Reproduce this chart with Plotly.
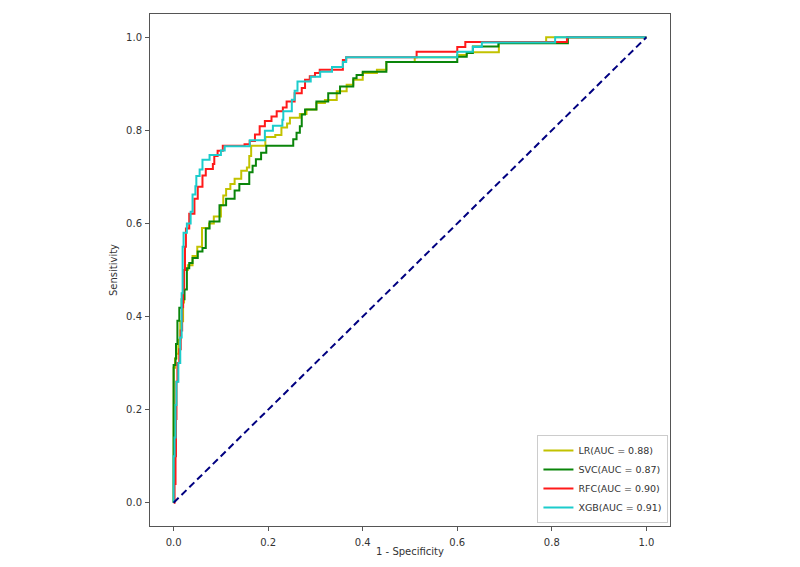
import plotly.graph_objects as go

# ---- data ----
lr_fpr = [0, 0, 0.003, 0.006, 0.010, 0.014, 0.020, 0.022, 0.030, 0.040, 0.050, 0.060, 0.075, 0.085,
          0.100, 0.105, 0.111, 0.120, 0.129, 0.143, 0.155, 0.160, 0.164, 0.194, 0.215, 0.228, 0.240,
          0.246, 0.267, 0.281, 0.302, 0.320, 0.345, 0.366, 0.380, 0.400, 0.430, 0.450, 0.510, 0.600,
          0.620, 0.688, 0.788, 1.0]
lr_tpr = [0, 0.29, 0.31, 0.32, 0.35, 0.39, 0.43, 0.50, 0.51, 0.53, 0.55, 0.59, 0.60, 0.615,
          0.639, 0.66, 0.674, 0.685, 0.696, 0.713, 0.72, 0.745, 0.767, 0.786, 0.79, 0.806, 0.815,
          0.827, 0.835, 0.845, 0.859, 0.865, 0.884, 0.898, 0.909, 0.923, 0.93, 0.947, 0.957, 0.962,
          0.968, 0.99, 1.0, 1.0]

svc_fpr = [0, 0, 0.004, 0.005, 0.008, 0.012, 0.017, 0.023, 0.028, 0.033, 0.040, 0.051, 0.061,
           0.068, 0.076, 0.097, 0.111, 0.129, 0.139, 0.160, 0.167, 0.174, 0.185, 0.196, 0.253,
           0.260, 0.267, 0.271, 0.278, 0.302, 0.327, 0.352, 0.380, 0.387, 0.400, 0.450, 0.600,
           0.620, 0.633, 0.687, 0.834, 1.0]
svc_tpr = [0, 0.296, 0.31, 0.341, 0.391, 0.419, 0.437, 0.458, 0.504, 0.515, 0.526, 0.54, 0.547,
           0.589, 0.604, 0.639, 0.653, 0.671, 0.685, 0.71, 0.724, 0.738, 0.752, 0.767, 0.781,
           0.795, 0.809, 0.834, 0.845, 0.862, 0.88, 0.894, 0.912, 0.919, 0.926, 0.947, 0.958,
           0.966, 0.98, 0.987, 1.0, 1.0]

rfc_fpr = [0, 0.002, 0.004, 0.005, 0.006, 0.008, 0.012, 0.015, 0.018, 0.020, 0.022, 0.024, 0.026,
           0.033, 0.044, 0.051, 0.061, 0.068, 0.083, 0.086, 0.093, 0.104, 0.150, 0.161, 0.172,
           0.182, 0.193, 0.207, 0.218, 0.231, 0.239, 0.256, 0.271, 0.278, 0.288, 0.299, 0.309,
           0.358, 0.365, 0.514, 0.600, 0.617, 0.832, 1.0]
rfc_tpr = [0, 0.04, 0.10, 0.18, 0.26, 0.30, 0.33, 0.37, 0.42, 0.46, 0.50, 0.55, 0.589,
           0.621, 0.653, 0.679, 0.703, 0.717, 0.728, 0.745, 0.756, 0.767, 0.770, 0.777, 0.791,
           0.809, 0.820, 0.830, 0.841, 0.849, 0.862, 0.880, 0.891, 0.909, 0.916, 0.923, 0.930,
           0.951, 0.957, 0.969, 0.979, 0.990, 1.0, 1.0]

xgb_fpr = [0, 0, 0.002, 0.004, 0.006, 0.010, 0.014, 0.017, 0.019, 0.021, 0.028, 0.036, 0.040,
           0.046, 0.048, 0.055, 0.061, 0.076, 0.100, 0.108, 0.161, 0.193, 0.210, 0.230, 0.232,
           0.250, 0.256, 0.262, 0.290, 0.310, 0.335, 0.358, 0.365, 0.600, 0.633, 0.652, 0.807, 1.0]
xgb_tpr = [0, 0.10, 0.14, 0.21, 0.26, 0.30, 0.355, 0.45, 0.55, 0.58, 0.60, 0.625, 0.662,
           0.68, 0.702, 0.716, 0.737, 0.747, 0.757, 0.766, 0.779, 0.799, 0.810, 0.823, 0.841,
           0.866, 0.885, 0.905, 0.915, 0.926, 0.936, 0.947, 0.957, 0.969, 0.979, 0.989, 1.0, 1.0]

names = ["LR(AUC = 0.88)", "SVC(AUC = 0.87)", "RFC(AUC = 0.90)", "XGB(AUC = 0.91)"]
colors = ["#c2c200", "#0a850a", "#ff1a1a", "#1ccccc"]
diag = [0, 1]
ticks = [0.0, 0.2, 0.4, 0.6, 0.8, 1.0]

fig = go.Figure()
for fx, ty, nm, col in zip([lr_fpr, svc_fpr, rfc_fpr, xgb_fpr],
                           [lr_tpr, svc_tpr, rfc_tpr, xgb_tpr], names, colors):
    fig.add_trace(go.Scatter(x=fx, y=ty, mode="lines", name=nm,
                             line=dict(color=col, width=2, shape="hv")))
fig.add_trace(go.Scatter(x=diag, y=diag, mode="lines", showlegend=False,
                         line=dict(color="#000080", width=2, dash="7px,4px")))

axis_common = dict(range=[-0.05, 1.05], tickvals=ticks, tickformat=".1f",
                   showgrid=False, zeroline=False, showline=True, mirror=True,
                   linecolor="#555", linewidth=1, ticks="outside", ticklen=4,
                   tickcolor="#555", tickfont=dict(size=10, color="#333"))

fig.update_layout(
    width=800, height=567,
    margin=dict(l=150, r=130, t=14, b=37),
    paper_bgcolor="white", plot_bgcolor="white",
    font=dict(family="DejaVu Sans", size=10, color="#333"),
    xaxis=dict(**axis_common, ticklabelstandoff=3,
               title=dict(text="1 - Specificity", standoff=0, font=dict(size=10))),
    yaxis=dict(**axis_common, ticklabelstandoff=1,
               title=dict(text="Sensitivity", standoff=6, font=dict(size=10))),
    legend=dict(x=0.997, y=0.006, xanchor="right", yanchor="bottom",
                bgcolor="rgba(255,255,255,0.9)", bordercolor="#ccc", borderwidth=1,
                font=dict(size=9.5, color="#333"), tracegroupgap=0, itemwidth=30),
)

fig.write_html("out.html")
